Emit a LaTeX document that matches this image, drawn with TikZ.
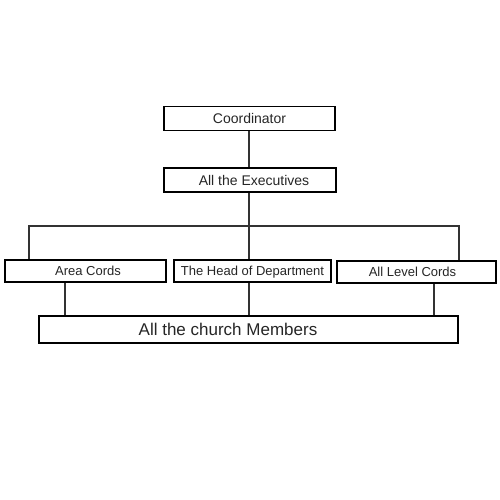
\documentclass[tikz,border=0pt]{standalone}
\usepackage{fontspec}
\setmainfont{Liberation Sans}
\begin{document}
\begin{tikzpicture}[x=1pt,y=-1pt,
  box/.style={draw=black,line width=1.8pt,inner sep=0pt,text=black!85,text depth=0pt,font=\fontsize{13}{13}\selectfont},
  conn/.style={draw=black!80,line width=1.2pt}]
\useasboundingbox (0,0) rectangle (500,500);
\fill[white] (0,0) rectangle (500,500);
\node[box,minimum width=171pt,minimum height=24pt,font=\fontsize{14}{14}\selectfont] (coord) at (249.5,118.5) {Coordinator};
\node[box,minimum width=172pt,minimum height=24pt,font=\fontsize{14}{14}\selectfont] (exec) at (250,180) {\kern8pt All the Executives};
\node[box,minimum width=161pt,minimum height=22pt] (area) at (85.5,271) {\kern5pt Area Cords};
\node[box,minimum width=157pt,minimum height=22pt] (hod) at (252.5,271) {The Head of Department};
\node[box,minimum width=159pt,minimum height=22pt] (level) at (416.5,272) {All Level Cords\kern8pt};
\node[box,minimum width=419pt,minimum height=27pt,font=\fontsize{17}{17}\selectfont] (mem) at (248.5,329.5) {All the church Members\kern41pt};
\coordinate (jl) at (29,226);
\coordinate (jr) at (459,226);
\coordinate (jc) at (249,226);
\draw[conn] (coord.south -| jc) -- (exec.north -| jc);
\draw[conn] (exec.south -| jc) -- (jc);
\draw[conn] (jc) -- (hod.north -| jc);
\draw[conn] (jl |- area.north) -- (jl) -- (jr) -- (jr |- level.north);
\draw[conn] (area.south -| 65,0) -- (mem.north -| 65,0);
\draw[conn] (hod.south -| 249,0) -- (mem.north -| 249,0);
\draw[conn] (level.south -| 434,0) -- (mem.north -| 434,0);
\end{tikzpicture}
\end{document}
